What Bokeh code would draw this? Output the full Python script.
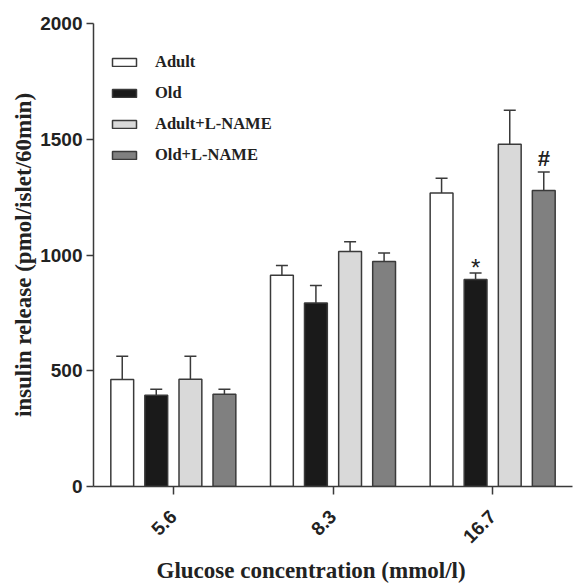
import math
from bokeh.plotting import figure
from bokeh.models import (ColumnDataSource, FactorRange, Range1d, Whisker, TeeHead,
                          Legend, LegendItem, Title, FixedTicker)
from bokeh.transform import dodge
from bokeh.core.properties import value
from bokeh.embed import file_html
from bokeh.resources import INLINE

# ---- data ----
categories = ["5.6", "8.3", "16.7"]
series_names = ["Adult", "Old", "Adult+L-NAME", "Old+L-NAME"]
adult = [462, 913, 1268]
adult_sem = [101, 42, 64]
old = [394, 793, 894]
old_sem = [26, 75, 28]
adult_lname = [463, 1015, 1478]
adult_lname_sem = [100, 42, 147]
old_lname = [399, 972, 1279]
old_lname_sem = [21, 37, 79]
old_marks = ["", "", "*"]
old_lname_marks = ["", "", "#"]
y_ticks = [0, 500, 1000, 1500, 2000]

means = [adult, old, adult_lname, old_lname]
sems = [adult_sem, old_sem, adult_lname_sem, old_lname_sem]
fills = ["#ffffff", "#1a1a1a", "#d9d9d9", "#808080"]
offsets = [-0.32, -0.107, 0.107, 0.32]
bar_w = 0.143
line_c = "#3a3a3a"

p = figure(x_range=FactorRange(*categories, range_padding=0), y_range=Range1d(0, 2000),
           width=575, height=586, output_backend="svg", toolbar_location=None,
           min_border_left=93, min_border_top=23, min_border_bottom=98, min_border_right=3)
p.outline_line_color = None
p.xgrid.visible = False
p.ygrid.visible = False
p.background_fill_color = "white"

items = []
for name, m, s, fc, off in zip(series_names, means, sems, fills, offsets):
    src = ColumnDataSource(dict(cat=categories, top=m,
                                upper=[a + b for a, b in zip(m, s)]))
    xd = dodge("cat", off, range=p.x_range)
    r = p.vbar(x=xd, top="top", width=bar_w, source=src, fill_color=fc,
               line_color=line_c, line_width=1.5)
    w = Whisker(base=xd, lower="top", upper="upper", source=src, dimension="height",
                line_color=line_c, line_width=1.5, lower_head=None,
                upper_head=TeeHead(size=12, line_color=line_c, line_width=1.5))
    p.add_layout(w)
    items.append(LegendItem(label=name, renderers=[r]))
    if name == "Old":
        src.data["mark"] = old_marks
        p.text(x=xd, y="upper", text="mark", source=src, text_align="center",
               text_baseline="middle", y_offset=-6, text_font_size="24px",
               text_font=value("Liberation Sans"), text_color="#222222")
    if name == "Old+L-NAME":
        src.data["mark"] = old_lname_marks
        p.text(x=xd, y="upper", text="mark", source=src, text_align="center",
               text_baseline="middle", y_offset=-14, text_font_size="22px",
               text_font=value("Liberation Sans"), text_font_style="bold",
               text_color="#222222")

legend = Legend(items=items, location=(16, 321), border_line_alpha=0,
                background_fill_alpha=0, padding=0, margin=0,
                glyph_width=30, glyph_height=10, label_height=18, spacing=11,
                label_standoff=16, label_text_font="Liberation Serif",
                label_text_font_style="bold", label_text_font_size="16.5px",
                label_text_color="#222222")
p.add_layout(legend)

for ax in (p.xaxis[0], p.yaxis[0]):
    ax.axis_line_color = line_c
    ax.axis_line_width = 1.5
    ax.major_tick_line_color = line_c
    ax.major_tick_line_width = 1.5
    ax.major_tick_in = 0
    ax.minor_tick_line_color = None
    ax.major_label_text_font = "Liberation Sans"
    ax.major_label_text_font_style = "bold"
    ax.major_label_text_color = "#222222"

p.yaxis.ticker = FixedTicker(ticks=y_ticks)
p.yaxis.major_tick_out = 7
p.yaxis.major_label_text_font_size = "19px"
p.yaxis.major_label_standoff = 4
p.yaxis.axis_label = "insulin release (pmol/islet/60min)"
p.yaxis.axis_label_text_font = "Liberation Serif"
p.yaxis.axis_label_text_font_style = "bold"
p.yaxis.axis_label_text_font_size = "23px"
p.yaxis.axis_label_text_color = "#222222"
p.yaxis.axis_label_standoff = 1

p.xaxis.major_tick_out = 8
p.xaxis.major_label_text_font_size = "19px"
p.xaxis.major_label_orientation = math.pi / 4
p.xaxis.major_label_standoff = 19
p.xaxis.group_text_font_size = "0px"

t = Title(text="Glucose concentration (mmol/l)", align="left", offset=63,
          text_font="Liberation Serif", text_font_style="bold",
          text_font_size="23px", text_color="#222222", standoff=8)
p.add_layout(t, "below")

open("out.html", "w").write(file_html(p, INLINE))
